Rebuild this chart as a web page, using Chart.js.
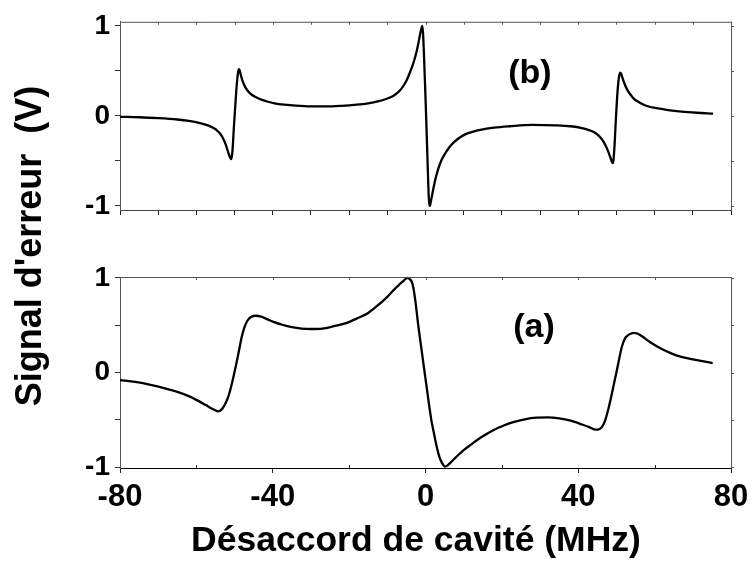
<!DOCTYPE html>
<html><head><meta charset="utf-8">
<script src="https://cdn.jsdelivr.net/npm/chart.js@4"></script>
<style>
html,body{margin:0;padding:0;background:#fff;}
#wrap{position:relative;width:755px;height:566px;overflow:hidden;font-family:"Liberation Sans",Arial,sans-serif;font-weight:bold;color:#000;}
canvas{position:absolute;left:0;top:0;}
.lbl{position:absolute;white-space:pre;text-align:center;}
</style></head><body>
<div id="wrap">
<canvas id="cb" width="755" height="566"></canvas>
<canvas id="ca" width="755" height="566"></canvas>
<div class="lbl" id="ytitle" style="left:-171px;top:228px;width:400px;height:36px;line-height:36px;font-size:36px;transform:rotate(-90deg);">Signal d'erreur  (V)</div>
<div class="lbl" id="xtitle" style="left:116px;top:522px;width:600px;line-height:35px;font-size:35.5px;">Désaccord de cavité (MHz)</div>
<div class="lbl" style="left:480px;top:54px;width:100px;line-height:34px;font-size:34px;">(b)</div>
<div class="lbl" style="left:484px;top:308px;width:100px;line-height:34px;font-size:34px;">(a)</div>
</div>
<script>
// Panel (b) - top : detuning (MHz) and error signal (V)
const xB = [-80,-75,-70,-65,-62,-59,-57,-55.5,-54.5,-53.8,-53,-52.3,-51.7,-51.2,-50.9,-50.7,-50.5,-50.2,-49.8,-49.4,-49.1,-48.9,-48.7,-48.4,-48.0,-47.5,-47.0,-46.3,-45.5,-44.5,-43,-41.5,-39.5,-37,-34,-30,-26,-22,-18,-15,-12.5,-10.5,-9,-8,-7,-6,-5,-4,-3,-2.3,-1.8,-1.4,-1.1,-0.85,-0.65,-0.4,-0.1,0.2,0.5,0.8,1.0,1.2,1.5,2.0,2.6,3.4,4.2,5.1,6.3,7.75,9,10.4,12.5,15,18,22,28,34,38,41,43,44.5,45.7,46.8,47.7,48.4,48.8,49.0,49.2,49.5,49.8,50.1,50.4,50.7,51.0,51.2,51.6,52.1,52.7,53.6,54.6,56,58,60.5,63.5,67,71,75.3];
const yB = [-0.010,-0.015,-0.025,-0.04,-0.055,-0.08,-0.105,-0.135,-0.165,-0.195,-0.25,-0.32,-0.40,-0.46,-0.48,-0.45,-0.36,-0.14,0.12,0.36,0.48,0.52,0.51,0.46,0.40,0.345,0.305,0.265,0.235,0.21,0.18,0.16,0.14,0.125,0.113,0.105,0.105,0.112,0.125,0.14,0.16,0.185,0.21,0.235,0.27,0.32,0.39,0.49,0.61,0.72,0.82,0.91,0.965,1.0,0.92,0.68,0.33,-0.05,-0.45,-0.85,-1.0,-0.99,-0.93,-0.82,-0.70,-0.58,-0.49,-0.42,-0.345,-0.28,-0.24,-0.205,-0.175,-0.15,-0.13,-0.115,-0.10,-0.105,-0.115,-0.135,-0.16,-0.19,-0.235,-0.30,-0.38,-0.46,-0.51,-0.525,-0.50,-0.33,-0.08,0.15,0.33,0.44,0.48,0.47,0.42,0.36,0.30,0.24,0.19,0.15,0.11,0.085,0.065,0.048,0.035,0.025];
// Panel (a) - bottom
const xA = [-80,-76,-72,-68,-65,-62,-59.5,-57.5,-56,-55,-54.4,-53.8,-53,-52.3,-51.6,-50.9,-50.2,-49.5,-48.8,-48.1,-47.4,-46.6,-45.6,-44.4,-43,-41.5,-39.8,-37.5,-35,-32.5,-30,-27,-24,-21,-18,-15,-12.5,-10,-8.4,-7,-6,-5.2,-4.7,-4.2,-3.6,-3.2,-2.6,-1.9,-1.2,-0.4,0.3,1.0,1.6,2.05,2.8,3.4,4.0,4.6,5.1,5.7,6.5,7.5,8.5,10,12,14,16,18,20.5,23,26,29,32,35,38,41,43,44.5,45.5,46.3,47.1,47.8,48.5,49.3,50.1,50.8,51.4,52.1,52.9,53.7,54.6,55.6,57,58.5,60,62,64.5,67,70,72.5,75.2];
const yA = [-0.08,-0.10,-0.13,-0.17,-0.205,-0.25,-0.30,-0.345,-0.38,-0.40,-0.41,-0.405,-0.37,-0.32,-0.25,-0.15,-0.03,0.10,0.24,0.38,0.48,0.55,0.59,0.60,0.59,0.565,0.535,0.505,0.48,0.465,0.46,0.465,0.49,0.52,0.57,0.63,0.71,0.80,0.87,0.925,0.96,0.99,1.0,0.99,0.96,0.90,0.74,0.50,0.29,0.05,-0.155,-0.36,-0.52,-0.61,-0.76,-0.86,-0.93,-0.975,-0.995,-0.985,-0.955,-0.915,-0.875,-0.82,-0.76,-0.70,-0.65,-0.605,-0.56,-0.525,-0.495,-0.478,-0.475,-0.485,-0.51,-0.55,-0.58,-0.605,-0.60,-0.57,-0.50,-0.40,-0.28,-0.13,0.02,0.16,0.27,0.35,0.39,0.41,0.42,0.41,0.375,0.33,0.29,0.245,0.20,0.165,0.14,0.12,0.10];

const yTickValues = [-1,-0.5,0,0.5,1];
const xTicksB = [-80,-70,-60,-50,-40,-30,-20,-10,0,10,20,30,40,50,60,70,80];
const xTicksA = [-80,-40,0,40,80];
const xTopA = [-80,-60,-40,-20,0,20,40,60,80];
const xMinorA = [-60,-20,20,60];

const FONT = "'Liberation Sans', Arial, sans-serif";

function pts(xs, ys){ return xs.map((x,i)=>({x:x, y:ys[i]})); }

function framePlugin(topVals, bottomMinor){
  return {
    id:'frame',
    afterDraw(chart){
      const ctx = chart.ctx, a = chart.chartArea, xs = chart.scales.x, ys = chart.scales.y;
      ctx.save();
      ctx.strokeStyle = '#555'; ctx.lineWidth = 1;
      ctx.beginPath();
      ctx.moveTo(a.left, a.top + 0.5); ctx.lineTo(a.right + 1, a.top + 0.5);
      ctx.moveTo(a.right + 0.5, a.top); ctx.lineTo(a.right + 0.5, a.bottom);
      topVals.forEach(v => { const p = Math.round(xs.getPixelForValue(v)) + 0.5; ctx.moveTo(p, a.top); ctx.lineTo(p, a.top + 3); });
      yTickValues.forEach(v => { const p = Math.round(ys.getPixelForValue(v)) + 0.5; ctx.moveTo(a.right, p); ctx.lineTo(a.right + 3, p); });
      ctx.stroke();
      if (bottomMinor) {
        ctx.strokeStyle = '#222';
        ctx.beginPath();
        bottomMinor.forEach(v => { const p = Math.round(xs.getPixelForValue(v)) + 0.5; ctx.moveTo(p, a.bottom); ctx.lineTo(p, a.bottom - 3); });
        ctx.stroke();
      }
      ctx.restore();
    }
  };
}

function makeChart(id, xs, ys, cfg){
  return new Chart(document.getElementById(id), {
    type:'line',
    data:{ datasets:[{ data: pts(xs, ys), borderColor:'#000', borderWidth:2.3, pointRadius:0, fill:false, cubicInterpolationMode:'monotone', clip:false }] },
    options:{
      responsive:false, animation:false, devicePixelRatio:1,
      layout:{ padding: cfg.padding },
      plugins:{ legend:{display:false}, tooltip:{enabled:false}, title:{display:false} },
      scales:{
        x:{
          type:'linear', min:-80, max:80,
          afterBuildTicks: s => { s.ticks = cfg.xTicks.map(v => ({value:v})); },
          afterFit: s => { s.height = cfg.xHeight; },
          grid:{ drawOnChartArea:false, drawTicks:true, tickLength:5, tickColor:'#222', color:'#222' },
          border:{ display:true, color: cfg.xBorder, width:1 },
          ticks:{ autoSkip:false, maxRotation:0, padding:6, color:'#000',
                  font:{ family:FONT, size:31, weight:'bold' },
                  callback: v => cfg.xLabels ? String(v) : '' }
        },
        y:{
          type:'linear', min:-cfg.yLim, max:cfg.yLim,
          afterBuildTicks: s => { s.ticks = yTickValues.map(v => ({value:v})); },
          afterFit: s => { s.width = 120; },
          grid:{ drawOnChartArea:false, drawTicks:true, tickLength:5, tickColor:'#333', color:'#333' },
          border:{ display:true, color:'#555', width:1 },
          ticks:{ autoSkip:false, padding:5, color:'#000',
                  font:{ family:FONT, size:28, weight:'bold' },
                  callback: v => Number.isInteger(v) ? String(v) : '' }
        }
      }
    },
    plugins:[ framePlugin(cfg.topTicks, cfg.minor) ]
  });
}

makeChart('cb', xB, yB, { padding:{top:20, right:24, bottom:326, left:0}, xHeight:30, yLim:1.045,
  xTicks:xTicksB, xLabels:false, xBorder:'#444', topTicks:xTicksB, minor:null });
makeChart('ca', xA, yA, { padding:{top:277, right:24, bottom:0, left:0}, xHeight:98, yLim:1.01,
  xTicks:xTicksA, xLabels:true, xBorder:'#000', topTicks:xTopA, minor:xMinorA });
</script>
</body></html>
